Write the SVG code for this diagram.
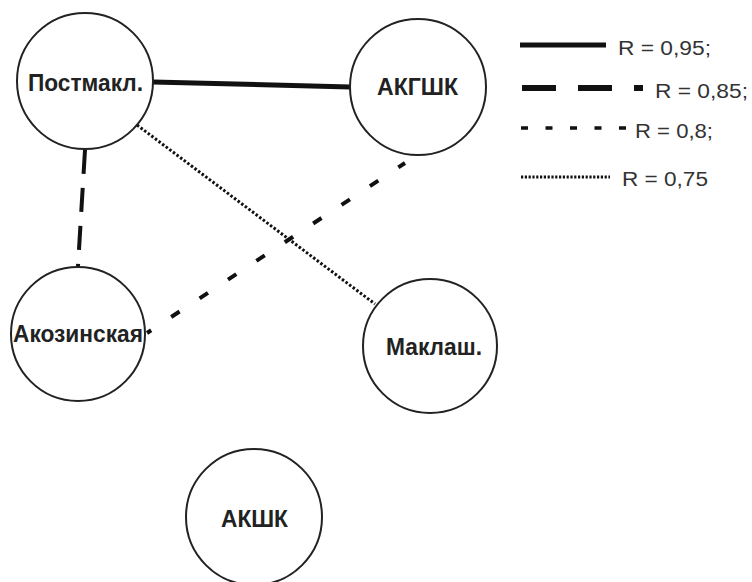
<svg xmlns="http://www.w3.org/2000/svg" width="752" height="582" viewBox="0 0 752 582">
<style>
.node circle{fill:#fff;stroke:#222;stroke-width:2}
.node text{font-family:"Liberation Sans",Arial,sans-serif;font-weight:bold;font-size:23px;fill:#222;text-anchor:middle}
.leg{font-family:"Liberation Sans",Arial,sans-serif;font-size:20.5px;fill:#333}
.c{fill:none;stroke:#111}
</style>
<rect width="752" height="582" fill="#fff"/>
<g id="connectors">
<line class="c" x1="153" y1="82" x2="350" y2="87" stroke-width="5"/>
<line class="c" x1="85" y1="150" x2="78" y2="266" stroke-width="4" stroke-dasharray="24 14"/>
<line class="c" x1="147" y1="333" x2="405" y2="163" stroke-width="4" stroke-dasharray="10 24" stroke-dashoffset="5"/>
<line class="c" x1="137" y1="125" x2="375" y2="304" stroke-width="3" stroke-dasharray="2.5 2"/>
</g>
<g id="node-postmakl" class="node"><circle cx="85" cy="81" r="68"/><text x="85.5" y="91" textLength="115" lengthAdjust="spacingAndGlyphs">Постмакл.</text></g>
<g id="node-akgshk" class="node"><circle cx="418" cy="87" r="68"/><text x="417.5" y="95" textLength="81" lengthAdjust="spacingAndGlyphs">АКГШК</text></g>
<g id="node-akozinskaya" class="node"><circle cx="78" cy="334" r="67"/><text x="78" y="342" textLength="130" lengthAdjust="spacingAndGlyphs">Акозинская</text></g>
<g id="node-maklash" class="node"><circle cx="430" cy="346" r="67"/><text x="434" y="355" textLength="96" lengthAdjust="spacingAndGlyphs">Маклаш.</text></g>
<g id="node-akshk" class="node"><circle cx="254" cy="517" r="68"/><text x="254.5" y="527" textLength="67" lengthAdjust="spacingAndGlyphs">АКШК</text></g>
<g id="legend">
<line class="c" x1="520" y1="45" x2="606" y2="45" stroke-width="5"/>
<text class="leg" x="618" y="55" textLength="93" lengthAdjust="spacingAndGlyphs">R = 0,95;</text>
<line class="c" x1="522" y1="88" x2="643" y2="88" stroke-width="6" stroke-dasharray="34 22"/>
<text class="leg" x="655" y="98" textLength="93" lengthAdjust="spacingAndGlyphs">R = 0,85;</text>
<line class="c" x1="521" y1="128" x2="626" y2="128" stroke-width="3.5" stroke-dasharray="7 17.5"/>
<text class="leg" x="635" y="138" textLength="78" lengthAdjust="spacingAndGlyphs">R = 0,8;</text>
<line class="c" x1="521" y1="177" x2="610" y2="177" stroke-width="2.8" stroke-dasharray="2.2 1.6"/>
<text class="leg" x="622" y="186" textLength="86" lengthAdjust="spacingAndGlyphs">R = 0,75</text>
</g>
</svg>
